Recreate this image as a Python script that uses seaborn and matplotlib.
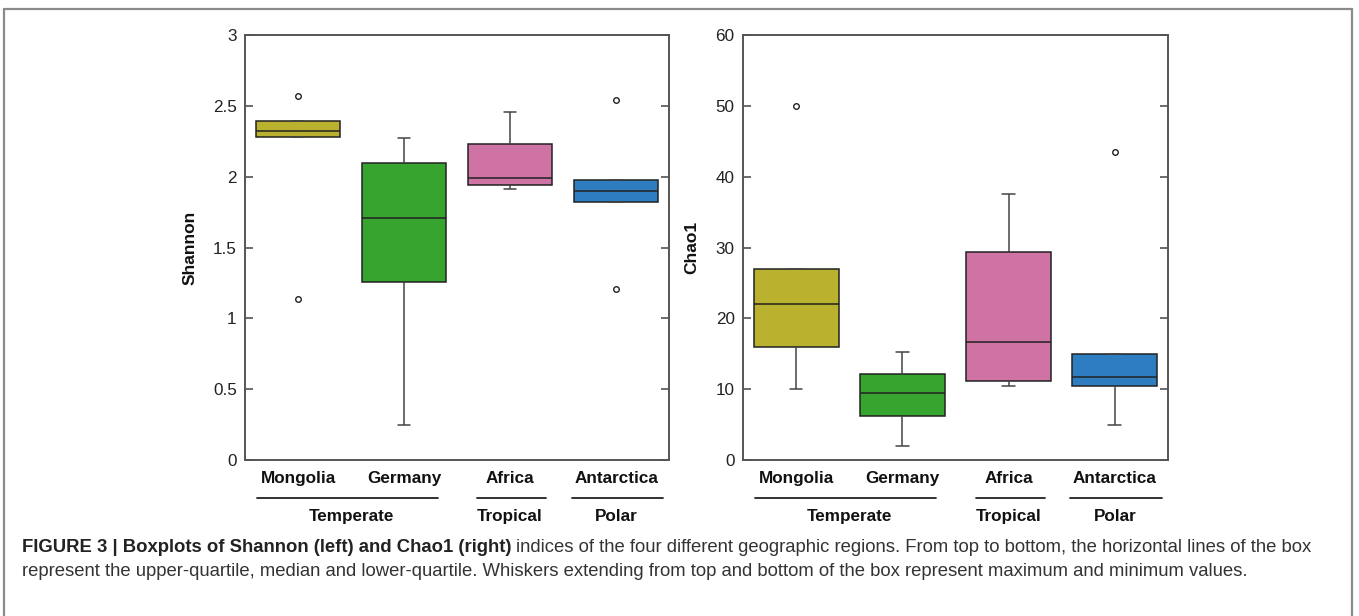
"""Boxplots of Shannon and Chao1 indices across four geographic regions."""
import matplotlib
matplotlib.use('Agg')
import matplotlib.pyplot as plt
import matplotlib.transforms as mtransforms
import seaborn as sns
import pandas as pd

sns.set_style('white')

# five values per region: min/outlier, Q1, median, Q3, max/outlier
regions = ['Mongolia', 'Germany', 'Africa', 'Antarctica']
shannon = {
    'Mongolia': [1.14, 2.28, 2.32, 2.39, 2.57],
    'Germany': [0.25, 1.26, 1.71, 2.10, 2.27],
    'Africa': [1.91, 1.94, 1.99, 2.23, 2.46],
    'Antarctica': [1.21, 1.82, 1.90, 1.98, 2.54],
}
chao1 = {
    'Mongolia': [10.0, 16.0, 22.0, 27.0, 50.0],
    'Germany': [2.0, 6.2, 9.5, 12.2, 15.3],
    'Africa': [10.5, 11.2, 16.6, 29.3, 37.5],
    'Antarctica': [5.0, 10.5, 11.7, 15.0, 43.5],
}
groups = ['Temperate', 'Tropical', 'Polar']
colors = ['#bab22e', '#38a430', '#ce73a3', '#2e7dc0']

# group underline spans in category units
group_spans = [(-0.39, 1.32), (1.69, 2.34), (2.58, 3.44)]
group_centers = [0.5, 2, 3]

plt.rcParams['font.family'] = ['Liberation Sans', 'DejaVu Sans']


def to_frame(d, name):
    rows = [(r, v) for r in regions for v in d[r]]
    return pd.DataFrame(rows, columns=['Region', name])


def draw_panel(ax, df, name, ymax, yticks, ylabel_x):
    sns.boxplot(
        data=df, x='Region', y=name, hue='Region', order=regions,
        hue_order=regions, palette=colors, saturation=1, width=0.8,
        legend=False, linewidth=1.1, linecolor='#222222', fliersize=4, ax=ax,
        whiskerprops=dict(color='#444444', linewidth=1.1),
        capprops=dict(color='#444444', linewidth=1.1),
        flierprops=dict(marker='o', markerfacecolor='white',
                        markeredgecolor='#222222', markeredgewidth=1.0),
        capwidths=0.12,
    )
    ax.set_xlim(-0.5, 3.5)
    ax.set_ylim(0, ymax)
    ax.set_yticks(yticks)
    ax.set_yticklabels([f'{t:g}' for t in yticks], fontsize=12.3, color='#222222')
    ax.tick_params(axis='y', direction='in', length=6, width=1.1, color='#444444',
                   left=True, right=True, pad=6)
    ax.tick_params(axis='x', length=0, pad=8)
    ax.set_xticks(range(len(regions)))
    ax.set_xticklabels(regions, fontsize=12.3, fontweight='bold', color='#111111')
    ax.set_xlabel('')
    ax.set_ylabel(name, fontsize=12.5, fontweight='bold', color='#111111')
    ax.yaxis.set_label_coords(ylabel_x, 0.5)
    for s in ax.spines.values():
        s.set_color('#555555')
        s.set_linewidth(1.4)
    trans = mtransforms.blended_transform_factory(ax.transData, ax.transAxes)
    for (x0, x1), g, c in zip(group_spans, groups, group_centers):
        ax.plot([x0, x1], [-0.089, -0.089], color='#222222', lw=1.3,
                transform=trans, clip_on=False)
        ax.text(c, -0.134, g, transform=trans, ha='center', va='center',
                fontsize=12.3, fontweight='bold', color='#111111')


fig = plt.figure(figsize=(13.59, 6.16), dpi=100)
ax1 = fig.add_axes([0.1803, 0.2532, 0.3120, 0.6899])
ax2 = fig.add_axes([0.5467, 0.2532, 0.3127, 0.6899])

draw_panel(ax1, to_frame(shannon, 'Shannon'), 'Shannon', 3,
           [0, 0.5, 1, 1.5, 2, 2.5, 3], -0.113)
draw_panel(ax2, to_frame(chao1, 'Chao1'), 'Chao1', 60,
           [0, 10, 20, 30, 40, 50, 60], -0.104)

# outer frame (top, left, right)
fy = 1 - 9 / 616
for xs, ys in [([4 / 1359, 1352 / 1359], [fy, fy]),
               ([4 / 1359, 4 / 1359], [0, fy]),
               ([1352 / 1359, 1352 / 1359], [0, fy])]:
    fig.add_artist(plt.Line2D(xs, ys, color='#8a8a8a', lw=1.6,
                              transform=fig.transFigure))

# caption: bold lead then regular text
cap_size = 13.3
renderer = fig.canvas.get_renderer()
y1 = 1 - 547 / 616
y2 = 1 - 572 / 616
bold = fig.text(22 / 1359, y1, 'FIGURE 3 | Boxplots of Shannon (left) and Chao1 (right)',
                fontsize=cap_size, fontweight='bold', color='#222222',
                va='center', ha='left')
bb = bold.get_window_extent(renderer)
fig.text(bb.x1 / fig.bbox.width + 5 / 1359, y1,
         'indices of the four different geographic regions. From top to bottom, '
         'the horizontal lines of the box',
         fontsize=cap_size, color='#333333', va='center', ha='left')
fig.text(22 / 1359, y2,
         'represent the upper-quartile, median and lower-quartile. Whiskers extending '
         'from top and bottom of the box represent maximum and minimum values.',
         fontsize=cap_size, color='#333333', va='center', ha='left')

fig.savefig('out.png', dpi=100)
